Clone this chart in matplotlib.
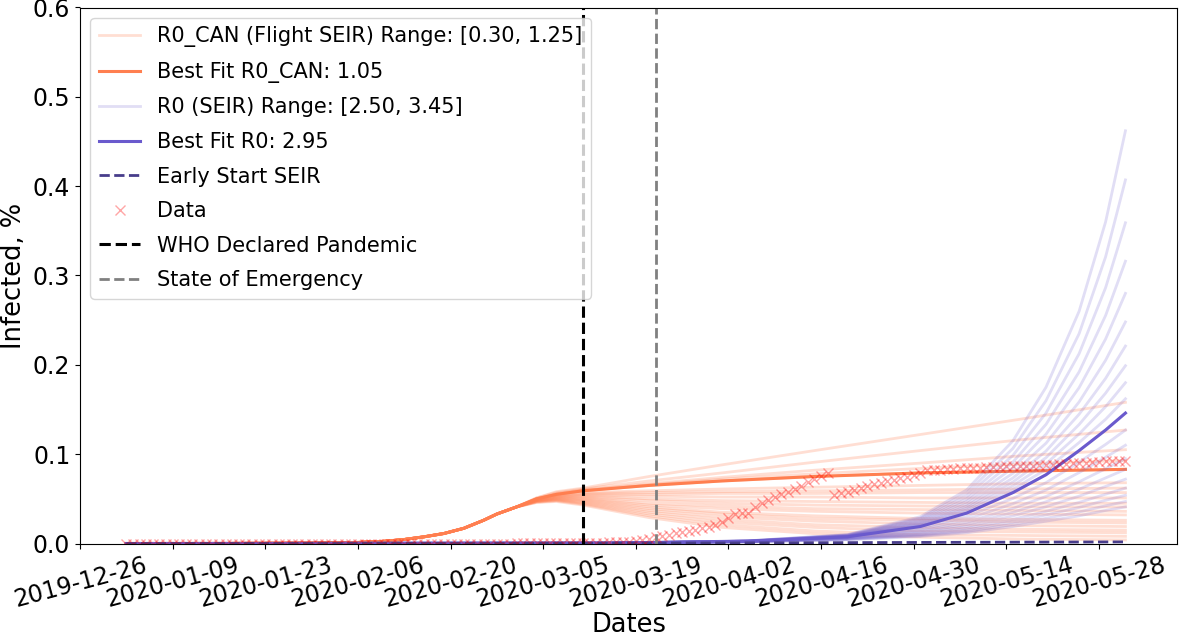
import numpy as np
import pandas as pd
import matplotlib
matplotlib.use('Agg')
import matplotlib.pyplot as plt
import matplotlib.dates as mdates

# Flight SEIR (R0_CAN sweep): shared early rise, then one tail per R0_CAN value
r0_can_range = [0.30, 0.35, 0.40, 0.45, 0.50, 0.55, 0.60, 0.65, 0.70, 0.75,
                0.80, 0.85, 0.90, 0.95, 1.00, 1.05, 1.10, 1.15, 1.20, 1.25]
best_r0_can = 1.05
flight_rise_dates = ['2020-01-02', '2020-01-16', '2020-01-30', '2020-02-06', '2020-02-10', '2020-02-13',
                     '2020-02-16', '2020-02-19', '2020-02-22', '2020-02-25', '2020-02-27', '2020-03-01']
flight_rise = [0.0, 0.0001, 0.0004, 0.0012, 0.0025, 0.0045, 0.0075, 0.0112, 0.017, 0.026, 0.033, 0.041]
flight_tail_dates = ['2020-03-04', '2020-03-07', '2020-03-11', '2020-03-21', '2020-04-01',
                     '2020-04-15', '2020-05-01', '2020-05-16', '2020-06-01']
flight_tails = [
    [0.046, 0.047, 0.043, 0.029, 0.018, 0.011, 0.007, 0.005, 0.004],
    [0.046, 0.048, 0.044, 0.031, 0.021, 0.014, 0.010, 0.009, 0.008],
    [0.047, 0.048, 0.045, 0.033, 0.024, 0.018, 0.014, 0.013, 0.012],
    [0.047, 0.049, 0.046, 0.035, 0.027, 0.021, 0.018, 0.016, 0.015],
    [0.047, 0.049, 0.047, 0.037, 0.030, 0.025, 0.022, 0.020, 0.019],
    [0.047, 0.050, 0.048, 0.039, 0.033, 0.028, 0.026, 0.024, 0.023],
    [0.048, 0.050, 0.049, 0.041, 0.035, 0.031, 0.028, 0.027, 0.026],
    [0.048, 0.051, 0.050, 0.043, 0.039, 0.036, 0.034, 0.033, 0.032],
    [0.048, 0.051, 0.051, 0.045, 0.042, 0.039, 0.038, 0.037, 0.036],
    [0.048, 0.052, 0.052, 0.048, 0.045, 0.043, 0.042, 0.041, 0.041],
    [0.049, 0.052, 0.053, 0.050, 0.048, 0.047, 0.046, 0.045, 0.045],
    [0.049, 0.053, 0.054, 0.053, 0.052, 0.052, 0.051, 0.051, 0.051],
    [0.049, 0.053, 0.055, 0.055, 0.056, 0.056, 0.057, 0.057, 0.057],
    [0.049, 0.054, 0.056, 0.057, 0.058, 0.059, 0.060, 0.061, 0.062],
    [0.050, 0.054, 0.057, 0.059, 0.061, 0.063, 0.065, 0.067, 0.068],
    [0.050, 0.055, 0.059, 0.065, 0.070, 0.075, 0.079, 0.081, 0.083],
    [0.050, 0.055, 0.059, 0.066, 0.072, 0.078, 0.084, 0.089, 0.093],
    [0.050, 0.056, 0.060, 0.067, 0.074, 0.082, 0.090, 0.098, 0.105],
    [0.051, 0.057, 0.061, 0.070, 0.079, 0.091, 0.104, 0.116, 0.127],
    [0.051, 0.058, 0.062, 0.075, 0.088, 0.104, 0.122, 0.139, 0.158],
]
best_flight_tail = [0.050, 0.055, 0.059, 0.065, 0.070, 0.075, 0.079, 0.081, 0.083]

# plain SEIR (R0 sweep)
r0_range = [2.50, 2.55, 2.60, 2.65, 2.70, 2.75, 2.80, 2.85, 2.90, 2.95,
            3.00, 3.05, 3.10, 3.15, 3.20, 3.25, 3.30, 3.35, 3.40, 3.45]
best_r0 = 2.95
seir_dates = ['2020-01-02', '2020-03-15', '2020-04-05', '2020-04-20', '2020-05-01', '2020-05-08',
              '2020-05-15', '2020-05-20', '2020-05-25', '2020-05-29', '2020-06-01']
seir_curves = [
    [0.0, 0.0003, 0.0017, 0.0042, 0.0078, 0.0120, 0.0190, 0.0250, 0.0310, 0.0370, 0.041],
    [0.0, 0.0003, 0.0018, 0.0045, 0.0086, 0.0134, 0.0214, 0.0282, 0.0353, 0.0422, 0.047],
    [0.0, 0.0003, 0.0019, 0.0048, 0.0095, 0.0151, 0.0241, 0.0320, 0.0404, 0.0484, 0.054],
    [0.0, 0.0003, 0.0020, 0.0051, 0.0104, 0.0169, 0.0271, 0.0360, 0.0460, 0.0552, 0.062],
    [0.0, 0.0003, 0.0021, 0.0054, 0.0116, 0.0190, 0.0309, 0.0412, 0.0530, 0.0639, 0.072],
    [0.0, 0.0004, 0.0022, 0.0058, 0.0128, 0.0214, 0.0349, 0.0467, 0.0607, 0.0734, 0.083],
    [0.0, 0.0004, 0.0023, 0.0062, 0.0141, 0.0239, 0.0393, 0.0527, 0.0691, 0.0837, 0.095],
    [0.0, 0.0004, 0.0024, 0.0066, 0.0156, 0.0270, 0.0446, 0.0599, 0.0794, 0.0965, 0.110],
    [0.0, 0.0004, 0.0025, 0.0070, 0.0172, 0.0303, 0.0505, 0.0681, 0.0910, 0.1109, 0.127],
    [0.0, 0.0004, 0.0025, 0.0075, 0.0190, 0.0340, 0.0570, 0.0770, 0.1040, 0.1270, 0.146],
    [0.0, 0.0004, 0.0026, 0.0077, 0.0198, 0.0358, 0.0607, 0.0829, 0.1130, 0.1390, 0.162],
    [0.0, 0.0004, 0.0026, 0.0079, 0.0206, 0.0377, 0.0647, 0.0892, 0.1226, 0.1532, 0.180],
    [0.0, 0.0004, 0.0027, 0.0081, 0.0215, 0.0396, 0.0689, 0.0961, 0.1332, 0.1683, 0.199],
    [0.0, 0.0004, 0.0027, 0.0083, 0.0224, 0.0417, 0.0734, 0.1035, 0.1447, 0.1848, 0.221],
    [0.0, 0.0004, 0.0028, 0.0086, 0.0234, 0.0441, 0.0787, 0.1123, 0.1585, 0.2051, 0.248],
    [0.0, 0.0004, 0.0028, 0.0088, 0.0246, 0.0469, 0.0848, 0.1224, 0.1745, 0.2289, 0.280],
    [0.0, 0.0004, 0.0029, 0.0091, 0.0258, 0.0497, 0.0912, 0.1334, 0.1921, 0.2552, 0.316],
    [0.0, 0.0004, 0.0029, 0.0094, 0.0271, 0.0529, 0.0986, 0.1461, 0.2125, 0.2863, 0.359],
    [0.0, 0.0004, 0.0030, 0.0097, 0.0285, 0.0564, 0.1065, 0.1599, 0.2349, 0.3209, 0.407],
    [0.0, 0.0004, 0.0030, 0.0100, 0.0300, 0.0600, 0.1150, 0.1750, 0.2600, 0.3600, 0.462],
]
best_seir = [0.0, 0.0004, 0.0025, 0.0075, 0.0190, 0.0340, 0.0570, 0.0770, 0.1040, 0.1270, 0.146]

early_dates = ['2020-01-02', '2020-03-01', '2020-04-01', '2020-05-01', '2020-06-01']
early_seir = [0.0, 0.0002, 0.0006, 0.0012, 0.0018]

# observed data, daily from 2020-01-02
data_start = '2020-01-02'
data_vals = [
    # Jan 2 - Jan 31
    0.0, 0.0, 0.0, 0.0, 0.0, 0.0, 0.0, 0.0, 0.0, 0.0, 0.0, 0.0, 0.0, 0.0, 0.0,
    0.0, 0.0, 0.0, 0.0, 0.0, 0.0, 0.0, 0.0, 0.0, 0.0, 0.0, 0.0, 0.0, 0.0, 0.0,
    # Feb
    0.0, 0.0, 0.0, 0.0, 0.0, 0.0, 0.0, 0.0, 0.0, 0.0, 0.0, 0.0, 0.0, 0.0, 0.0,
    0.0, 0.0, 0.0, 0.0, 0.0, 0.0, 0.0, 0.0, 0.0, 0.0, 0.0, 0.0, 0.0, 0.0,
    # Mar
    0.0001, 0.0001, 0.0001, 0.0001, 0.0002, 0.0002, 0.0002, 0.0003, 0.0003, 0.0004,
    0.0005, 0.0006, 0.0008, 0.0010, 0.0012, 0.0015, 0.0018, 0.0022, 0.0028, 0.0040,
    0.0052, 0.0068, 0.0085, 0.0100, 0.0115, 0.0128, 0.0140, 0.0152, 0.0168, 0.0188, 0.0210,
    # Apr
    0.0240, 0.0290, 0.0335, 0.0340, 0.0345, 0.0410, 0.0450, 0.0485, 0.0520, 0.0550,
    0.0580, 0.0612, 0.0648, 0.0685, 0.0720, 0.0755, 0.0785, 0.0540, 0.0560, 0.0580,
    0.0600, 0.0620, 0.0640, 0.0665, 0.0680, 0.0698, 0.0712, 0.0730, 0.0750, 0.0770,
    # May
    0.0790, 0.0820, 0.0825, 0.0828, 0.0832, 0.0836, 0.0840, 0.0842, 0.0846, 0.0850,
    0.0852, 0.0856, 0.0860, 0.0862, 0.0864, 0.0868, 0.0870, 0.0872, 0.0876, 0.0880,
    0.0884, 0.0888, 0.0892, 0.0896, 0.0900, 0.0905, 0.0910, 0.0915, 0.0920, 0.0922, 0.0925,
    # Jun 1
    0.0922,
]

who_date = '2020-03-11'
emergency_date = '2020-03-22'
tick_start, tick_end = '2019-12-26', '2020-05-28'
x_left, x_right = '2019-12-26', '2020-06-08 19:00'

flight_dates = pd.to_datetime(flight_rise_dates + flight_tail_dates)
data_dates = pd.date_range(data_start, periods=len(data_vals), freq='D')

fig = plt.figure(figsize=(11.8, 6.37), dpi=100)
ax = fig.add_axes([80 / 1180, 93.5 / 637, 1097 / 1180, 536 / 637])

for i, tail in enumerate(flight_tails):
    lab = f'R0_CAN (Flight SEIR) Range: [{r0_can_range[0]:.2f}, {r0_can_range[-1]:.2f}]' if i == 0 else '_nolegend_'
    ax.plot(flight_dates, flight_rise + tail, color='coral', alpha=0.25, lw=2, label=lab)
ax.plot(flight_dates, flight_rise + best_flight_tail, color='coral', lw=2.2,
        label=f'Best Fit R0_CAN: {best_r0_can:.2f}')

for i, vals in enumerate(seir_curves):
    lab = f'R0 (SEIR) Range: [{r0_range[0]:.2f}, {r0_range[-1]:.2f}]' if i == 0 else '_nolegend_'
    ax.plot(pd.to_datetime(seir_dates), vals, color='slateblue', alpha=0.2, lw=2, label=lab)
ax.plot(pd.to_datetime(seir_dates), best_seir, color='slateblue', lw=2.2,
        label=f'Best Fit R0: {best_r0:.2f}')

ax.plot(pd.to_datetime(early_dates), early_seir, color='darkslateblue', ls='--', lw=2,
        label='Early Start SEIR')
ax.plot(data_dates, data_vals, 'x', color='red', alpha=0.35, ms=7, label='Data')

ax.axvline(pd.Timestamp(who_date), color='black', ls='--', lw=2.2, label='WHO Declared Pandemic')
ax.axvline(pd.Timestamp(emergency_date), color='grey', ls='--', lw=2, label='State of Emergency')

ax.set_ylim(0, 0.6)
ax.set_xlim(pd.Timestamp(x_left), pd.Timestamp(x_right))
ax.set_xticks(pd.date_range(tick_start, tick_end, freq='14D'))
ax.xaxis.set_major_formatter(mdates.DateFormatter('%Y-%m-%d'))
ax.tick_params(labelsize=17)
plt.setp(ax.get_xticklabels(), rotation=15)
ax.set_xlabel('Dates', fontsize=18.5, labelpad=0)
ax.set_ylabel('Infected, %', fontsize=18.5)
ax.legend(loc='upper left', fontsize=15, labelspacing=0.7)

fig.savefig('out.png', dpi=100)
